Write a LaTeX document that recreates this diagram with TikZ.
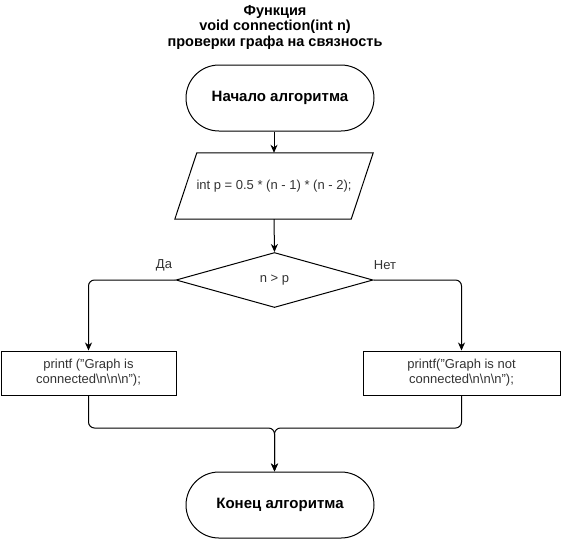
\documentclass[tikz,border=0pt]{standalone}
\usepackage{fontspec}
\setmainfont{Liberation Sans}
\usetikzlibrary{shapes.geometric,arrows.meta,calc}
\definecolor{txt}{gray}{0.2}
\tikzset{
  lw/.style={line width=1pt},
  term/.style={draw,lw,rectangle,rounded corners=33pt,minimum width=188pt,minimum height=66pt,inner sep=0pt,font=\fontsize{15}{17}\selectfont\bfseries},
  iobox/.style={rectangle,minimum width=198pt,minimum height=66pt,inner sep=0pt,font=\fontsize{13}{15}\selectfont,text=txt},
  decis/.style={draw,lw,diamond,minimum width=197pt,minimum height=55pt,inner sep=0pt,font=\fontsize{13}{15}\selectfont,text=txt},
  procbox/.style={draw,lw,rectangle,minimum height=44pt,inner sep=0pt,align=center,font=\fontsize{13}{15}\selectfont,text=txt},
  lbl/.style={font=\fontsize{13}{15}\selectfont,text=txt},
  arr/.style={lw,-{Stealth[length=8pt,width=7pt,inset=2.5pt]}},
}
\begin{document}
\begin{tikzpicture}[x=1pt,y=-1pt]
\useasboundingbox (0,0) rectangle (561,539);
\node[align=center,font=\fontsize{14.5}{15.5}\selectfont\bfseries] (title) at (275,27) {Функция\\void connection(int n)\\проверки графа на связность};
\node[term] (start) at (280,98) {Начало алгоритма};
\node[iobox] (para) at (274,186) {int p = 0.5 * (n - 1) * (n - 2);};
\draw[lw] ($(para.north west)+(22,0)$) -- (para.north east) -- ($(para.south east)+(-22,0)$) -- (para.south west) -- cycle;
\node[decis] (dec) at (274.5,280) {n > p};
\node[procbox,minimum width=175pt] (yes) at (88.5,373) {printf ("Graph is\\connected\textbackslash n\textbackslash n\textbackslash n");};
\node[procbox,minimum width=197pt] (no) at (461.5,373) {printf("Graph is not\\connected\textbackslash n\textbackslash n\textbackslash n");};
\node[term] (end) at (280,505) {Конец алгоритма};
\node[lbl] (da) at (164,265) {Да};
\node[lbl] (net) at (385,265) {Нет};
\coordinate (m) at (274.5,428);
\draw[arr] (para.north |- start.south) -- (para.north);
\draw[arr] (para.south) -- (dec.north);
\draw[arr,rounded corners=6pt] (dec.west) -| (yes.north);
\draw[arr,rounded corners=6pt] (dec.east) -| (no.north);
\draw[arr,rounded corners=6pt] (yes.south) |- (m) -- (m |- end.north);
\draw[arr,rounded corners=6pt] (no.south) |- (m) -- (m |- end.north);
\end{tikzpicture}
\end{document}
